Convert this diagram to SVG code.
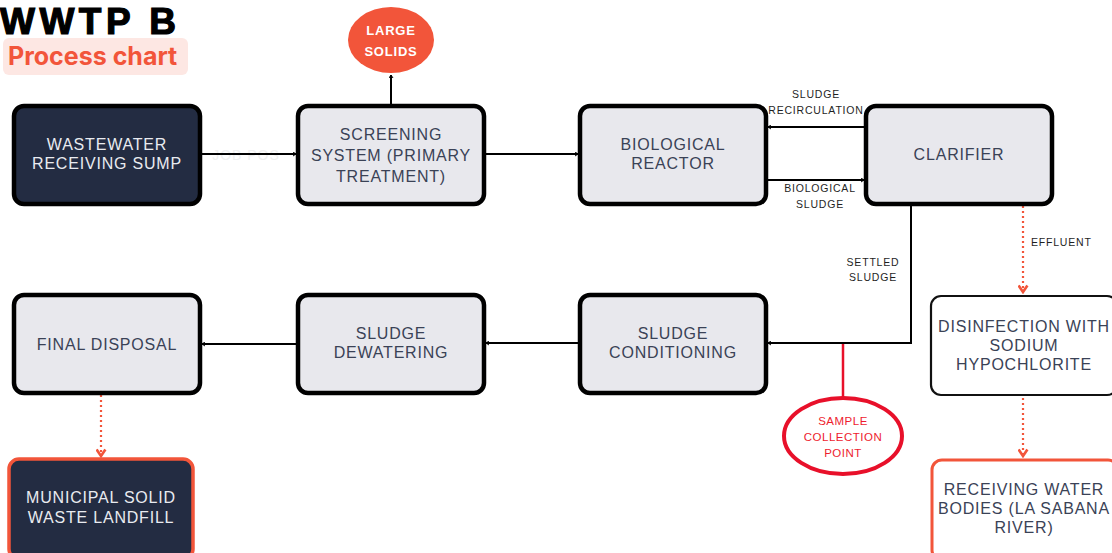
<svg xmlns="http://www.w3.org/2000/svg" width="1112" height="553" viewBox="0 0 1112 553">
<style>
.box{fill:#e8e8ed;stroke:#000;stroke-width:4.5}
.dark{fill:#232c42;stroke:#000;stroke-width:4.5}
.t{font-family:"Liberation Sans",Arial,sans-serif;font-size:16px;letter-spacing:0.8px;fill:#3a4256;text-anchor:middle}
.tw{font-family:"Liberation Sans",Arial,sans-serif;font-size:16px;letter-spacing:0.8px;fill:#e9ebf0;text-anchor:middle}
.lbl{font-family:"Liberation Sans",Arial,sans-serif;font-size:10.5px;letter-spacing:0.8px;fill:#1f1f1f;text-anchor:middle}
.lbls{font-family:"Liberation Sans",Arial,sans-serif;font-size:10.5px;letter-spacing:0.8px;fill:#1f1f1f;text-anchor:start}
.red{font-family:"Liberation Sans",Arial,sans-serif;font-size:11.5px;letter-spacing:0.5px;fill:#ee1c2e;text-anchor:middle}
.ln{fill:none;stroke:#000;stroke-width:2}
.dot{fill:none;stroke:#f2553a;stroke-width:2.2;stroke-dasharray:2 3}
</style>
<defs>
<marker id="ah" viewBox="0 0 10 10" refX="8" refY="5" markerWidth="5" markerHeight="5" orient="auto-start-reverse" markerUnits="userSpaceOnUse">
<path d="M2,1 L8,5 L2,9" fill="none" stroke="#000" stroke-width="2"/>
</marker>
<marker id="ao" viewBox="0 0 10 10" refX="8" refY="5" markerWidth="11" markerHeight="11" orient="auto" markerUnits="userSpaceOnUse">
<path d="M2,1 L8,5 L2,9" fill="none" stroke="#f2553a" stroke-width="2.4"/>
</marker>
</defs>
<rect width="1112" height="553" fill="#fff"/>
<g id="title">
<text x="0" y="34" font-family="'Liberation Sans',Arial,sans-serif" font-size="37" font-weight="700" letter-spacing="4.5" stroke="#000" stroke-width="1.2" fill="#000">WWTP B</text>
<rect x="3" y="38" width="185" height="37" rx="6" fill="#fde7e3"/>
<text x="8" y="65" font-family="Inter,'Liberation Sans',sans-serif" font-size="25" font-weight="700" fill="#f2553a">Process chart</text>
</g>
<g id="connectors">
<text x="246" y="160" font-family="'Liberation Sans',sans-serif" font-size="14" letter-spacing="1" fill="#f0f0f0" text-anchor="middle">JOB POS</text>
<line class="ln" x1="201" y1="154" x2="296" y2="154" marker-end="url(#ah)"/>
<line class="ln" x1="391" y1="104" x2="391" y2="75" marker-end="url(#ah)"/>
<line class="ln" x1="485" y1="154" x2="578" y2="154" marker-end="url(#ah)"/>
<line class="ln" x1="865" y1="127" x2="768" y2="127" marker-end="url(#ah)"/>
<line class="ln" x1="767" y1="180" x2="864" y2="180" marker-end="url(#ah)"/>
<polyline class="ln" points="911,205 911,343 768,343" marker-end="url(#ah)"/>
<line class="ln" x1="579" y1="343" x2="486" y2="343" marker-end="url(#ah)"/>
<line class="ln" x1="297" y1="344" x2="202" y2="344" marker-end="url(#ah)"/>
<line x1="843" y1="344" x2="843" y2="398" stroke="#e8102a" stroke-width="2.5"/>
<line class="dot" x1="1023" y1="206" x2="1023" y2="292" marker-end="url(#ao)"/>
<line class="dot" x1="1023" y1="398" x2="1023" y2="456" marker-end="url(#ao)"/>
<line class="dot" x1="101" y1="395" x2="101" y2="456" stroke-width="1.8" marker-end="url(#ao)"/>
<text class="lbl" x="816" y="98">SLUDGE</text>
<text class="lbl" x="816" y="114">RECIRCULATION</text>
<text class="lbl" x="820" y="192">BIOLOGICAL</text>
<text class="lbl" x="820" y="208">SLUDGE</text>
<text class="lbl" x="873" y="266">SETTLED</text>
<text class="lbl" x="873" y="281">SLUDGE</text>
<text class="lbls" x="1031" y="246">EFFLUENT</text>
</g>
<g id="sump">
<rect class="dark" x="14" y="106" width="186" height="98" rx="10"/>
<text class="tw" x="107" y="150">WASTEWATER</text>
<text class="tw" x="107" y="169">RECEIVING SUMP</text>
</g>
<g id="screening">
<rect class="box" x="298" y="106" width="186" height="98" rx="10"/>
<text class="t" x="391" y="140">SCREENING</text>
<text class="t" x="391" y="161">SYSTEM (PRIMARY</text>
<text class="t" x="391" y="182">TREATMENT)</text>
</g>
<g id="large-solids">
<ellipse cx="391" cy="40" rx="43" ry="33" fill="#f2553a"/>
<text x="391" y="35" font-family="'Liberation Sans',Arial,sans-serif" font-size="13" font-weight="700" letter-spacing="0.8" fill="#fff" text-anchor="middle">LARGE</text>
<text x="391" y="56" font-family="'Liberation Sans',Arial,sans-serif" font-size="13" font-weight="700" letter-spacing="0.8" fill="#fff" text-anchor="middle">SOLIDS</text>
</g>
<g id="bioreactor">
<rect class="box" x="580" y="106" width="186" height="98" rx="10"/>
<text class="t" x="673" y="150">BIOLOGICAL</text>
<text class="t" x="673" y="169">REACTOR</text>
</g>
<g id="clarifier">
<rect class="box" x="866" y="106" width="186" height="98" rx="10"/>
<text class="t" x="959" y="160">CLARIFIER</text>
</g>
<g id="final-disposal">
<rect class="box" x="14" y="295" width="186" height="98" rx="10"/>
<text class="t" x="107" y="350">FINAL DISPOSAL</text>
</g>
<g id="dewatering">
<rect class="box" x="298" y="295" width="186" height="98" rx="10"/>
<text class="t" x="391" y="339">SLUDGE</text>
<text class="t" x="391" y="358">DEWATERING</text>
</g>
<g id="conditioning">
<rect class="box" x="580" y="295" width="186" height="98" rx="10"/>
<text class="t" x="673" y="339">SLUDGE</text>
<text class="t" x="673" y="358">CONDITIONING</text>
</g>
<g id="disinfection">
<rect x="931" y="296" width="186" height="99" rx="10" fill="#fff" stroke="#111" stroke-width="2.2"/>
<text class="t" x="1024" y="332">DISINFECTION WITH</text>
<text class="t" x="1024" y="351">SODIUM</text>
<text class="t" x="1024" y="370">HYPOCHLORITE</text>
</g>
<g id="receiving-water">
<rect x="932" y="460" width="186" height="100" rx="10" fill="#fff" stroke="#f2553a" stroke-width="3"/>
<text class="t" x="1024" y="495">RECEIVING WATER</text>
<text class="t" x="1024" y="514">BODIES (LA SABANA</text>
<text class="t" x="1024" y="533">RIVER)</text>
</g>
<g id="landfill">
<rect x="9" y="459" width="184" height="100" rx="10" fill="#232c42" stroke="#f2553a" stroke-width="3.5"/>
<text class="tw" x="101" y="503">MUNICIPAL SOLID</text>
<text class="tw" x="101" y="523">WASTE LANDFILL</text>
</g>
<g id="sample-point">
<ellipse cx="843" cy="436" rx="59" ry="38" fill="#fff" stroke="#e8102a" stroke-width="4"/>
<text class="red" x="843" y="425">SAMPLE</text>
<text class="red" x="843" y="441">COLLECTION</text>
<text class="red" x="843" y="457">POINT</text>
</g>
</svg>
